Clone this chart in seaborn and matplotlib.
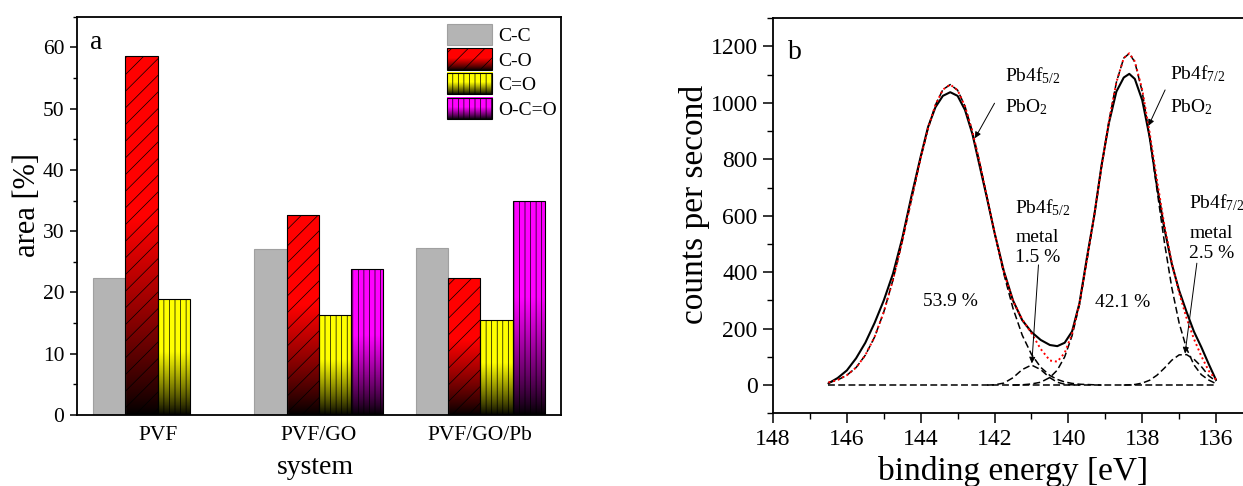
import numpy as np
import pandas as pd
import matplotlib
matplotlib.use("Agg")
import matplotlib.pyplot as plt
import matplotlib.colors as mcolors
import seaborn as sns
from matplotlib.patches import Patch
from matplotlib.image import BboxImage
from matplotlib.ticker import MultipleLocator

# ---------------- data: panel a ----------------
systems = ["PVF", "PVF/GO", "PVF/GO/Pb"]
bonds = ["C-C", "C-O", "C=O", "O-C=O"]
area_cc = [22.4, 27.1, 27.3]
area_co = [58.6, 32.7, 22.3]
area_c_dbl_o = [18.9, 16.4, 15.5]
area_occo = [np.nan, 23.8, 34.9]
bar_colors = ["#b4b4b4", "#ff0000", "#ffff00", "#ff00ff"]

# ---------------- data: panel b ----------------
energy = [146.5, 146.25, 146.0, 145.75, 145.5, 145.25, 145.0, 144.75, 144.5, 144.25,
          144.0, 143.8, 143.6, 143.4, 143.2, 143.0, 142.8, 142.6, 142.4, 142.2,
          142.0, 141.75, 141.5, 141.25, 141.0, 140.75, 140.5, 140.3, 140.1, 139.9,
          139.7, 139.5, 139.3, 139.1, 138.9, 138.7, 138.5, 138.35, 138.2, 138.0,
          137.8, 137.6, 137.4, 137.2, 137.0, 136.8, 136.6, 136.4, 136.2, 136.0]
measured = [6, 25, 52, 95, 150, 220, 300, 395, 520, 670,
            810, 915, 985, 1025, 1038, 1025, 975, 890, 775, 660,
            540, 405, 300, 230, 188, 160, 142, 138, 150, 190,
            290, 450, 600, 780, 930, 1040, 1090, 1103, 1085, 1010,
            880, 705, 555, 430, 335, 260, 190, 135, 75, 18]
envelope = [9, 18, 35, 62, 106, 170, 259, 373, 509, 658,
            805, 910, 993, 1047, 1065, 1045, 988, 899, 787, 664,
            541, 402, 298, 233, 184, 128, 87, 83, 114, 182,
            288, 442, 601, 775, 935, 1073, 1159, 1176, 1147, 1047,
            896, 727, 567, 434, 327, 238, 164, 103, 51, 19]
pbo2_52 = [9, 18, 35, 62, 106, 170, 259, 373, 509, 658,
           805, 910, 993, 1047, 1065, 1045, 988, 899, 787, 664,
           540, 395, 272, 177, 109, 63, 34, 20, 11, 6,
           3, 2, 1, 0, 0, 0, 0, 0, 0, 0,
           0, 0, 0, 0, 0, 0, 0, 0, 0, 0]
metal_52 = [0, 0, 0, 0, 0, 0, 0, 0, 0, 0,
            0, 0, 0, 0, 0, 0, 0, 0, 0, 0,
            1, 7, 26, 55, 71, 55, 26, 10, 3, 1,
            0, 0, 0, 0, 0, 0, 0, 0, 0, 0,
            0, 0, 0, 0, 0, 0, 0, 0, 0, 0]
pbo2_72 = [0, 0, 0, 0, 0, 0, 0, 0, 0, 0,
           0, 0, 0, 0, 0, 0, 0, 0, 0, 0,
           0, 0, 0, 1, 4, 10, 27, 53, 100, 175,
           285, 440, 600, 775, 935, 1073, 1159, 1175, 1145, 1040,
           879, 692, 507, 346, 220, 130, 72, 37, 18, 5]
metal_72 = [0, 0, 0, 0, 0, 0, 0, 0, 0, 0,
            0, 0, 0, 0, 0, 0, 0, 0, 0, 0,
            0, 0, 0, 0, 0, 0, 0, 0, 0, 0,
            0, 0, 0, 0, 0, 0, 0, 1, 2, 7,
            17, 35, 60, 88, 107, 108, 92, 66, 33, 14]
baseline_x = [146.5, 136.0]
baseline_y = [0, 0]

# ---------------- style ----------------
sns.set_style("ticks")
plt.rcParams.update({
    "font.family": ["Liberation Serif", "DejaVu Serif"],
    "mathtext.fontset": "custom",
    "mathtext.rm": "Liberation Serif",
    "mathtext.it": "Liberation Serif:italic",
    "mathtext.bf": "Liberation Serif:bold",
    "hatch.linewidth": 0.5,
    "hatch.color": "black",
    "axes.edgecolor": "black",
    "axes.linewidth": 1.3,
    "axes.labelcolor": "black",
    "text.color": "black",
    "xtick.color": "black",
    "ytick.color": "black",
})

fig = plt.figure(figsize=(12.43, 4.86), dpi=100)
axa = fig.add_axes([0.0619, 0.1461, 0.3894, 0.8195])
axb = fig.add_axes([0.6219, 0.1496, 0.3781, 0.8128])


def gradient(color, n=200):
    rgb = np.array(mcolors.to_rgb(color))
    f = np.linspace(0, 1, n)
    g = np.clip(f / 0.55, 0, 1) ** 0.85
    return g[:, None, None] * rgb[None, None, :]


# ---------------- panel a ----------------
rows = []
for s, v1, v2, v3, v4 in zip(systems, area_cc, area_co, area_c_dbl_o, area_occo):
    for b, v in zip(bonds, [v1, v2, v3, v4]):
        if not np.isnan(v):
            rows.append({"system": s, "bond": b, "area": v})
df = pd.DataFrame(rows)
palette = dict(zip(bonds, bar_colors))

sns.barplot(data=df, x="system", y="area", hue="bond", order=systems,
            hue_order=bonds, palette=palette, saturation=1, errorbar=None,
            width=0.8, ax=axa, legend=False)

hatches = {"C-C": None, "C-O": "//", "C=O": "|||", "O-C=O": "|||"}
for p in list(axa.patches):
    h = p.get_height()
    if h is None or np.isnan(h):
        continue
    fc = np.array(p.get_facecolor()[:3])
    bond = None
    for b in bonds:
        if np.allclose(fc, mcolors.to_rgb(palette[b]), atol=0.02):
            bond = b
    if bond is None:
        continue
    if bond == "C-C":
        p.set_edgecolor("#a0a0a0")
        p.set_linewidth(0.8)
        continue
    x0, w, y0 = p.get_x(), p.get_width(), p.get_y()
    im = axa.imshow(gradient(palette[bond]), extent=[x0, x0 + w, y0, y0 + h],
                    origin="lower", aspect="auto", interpolation="bilinear",
                    zorder=p.get_zorder() - 0.01)
    im.set_clip_path(p)
    p.set_facecolor("none")
    p.set_edgecolor("black")
    p.set_linewidth(0.8)
    p.set_hatch(hatches[bond])

axa.set_xlim(-0.5, 2.5)
axa.set_ylim(0, 65)
axa.set_yticks([0, 10, 20, 30, 40, 50, 60])
axa.yaxis.set_minor_locator(MultipleLocator(5))
axa.tick_params(axis="y", which="major", direction="out", length=5, width=1.1,
                labelsize=15.5, pad=4)
axa.tick_params(axis="y", which="minor", direction="out", length=3, width=1.0)
axa.tick_params(axis="x", length=0, labelsize=15.5, pad=8)
axa.set_xlabel("system", fontsize=20)
axa.set_ylabel("area [%]", fontsize=22)
axa.xaxis.set_label_coords(0.492, -0.1)
axa.yaxis.set_label_coords(-0.073, 0.528)
for sp in axa.spines.values():
    sp.set_visible(True)
    sp.set_color("black")
    sp.set_linewidth(1.3)
axa.text(-0.419, 59.8, "a", fontsize=20, ha="left", va="baseline")

handles = []
for b, c in zip(bonds, bar_colors):
    if b == "C-C":
        handles.append(Patch(facecolor=c, edgecolor="#a0a0a0", linewidth=0.8))
    else:
        handles.append(Patch(facecolor=c, edgecolor="black", linewidth=0.8,
                             hatch=hatches[b]))
leg = axa.legend(handles, bonds, loc="upper left", bbox_to_anchor=(0.764, 0.982),
                 frameon=False, fontsize=14, handlelength=2.35, handleheight=1.29,
                 labelspacing=0.18, handletextpad=0.3, borderpad=0,
                 borderaxespad=0)

# ---------------- panel b ----------------
E = np.array(energy)


def nonzero_span(vals):
    v = np.array(vals, dtype=float)
    idx = np.where(v > 0)[0]
    lo = max(idx.min() - 1, 0)
    hi = min(idx.max() + 1, len(v) - 1)
    return E[lo:hi + 1], v[lo:hi + 1]


dash = (0, (4.5, 2.2))
sns.lineplot(x=baseline_x, y=baseline_y, ax=axb, color="black", linewidth=1.1,
             linestyle=dash, sort=False, estimator=None)
for comp in [pbo2_52, metal_52, pbo2_72, metal_72]:
    xs, ys = nonzero_span(comp)
    sns.lineplot(x=xs, y=ys, ax=axb, color="black", linewidth=1.1,
                 linestyle=dash, sort=False, estimator=None)
sns.lineplot(x=energy, y=measured, ax=axb, color="black", linewidth=1.5,
             sort=False, estimator=None)
sns.lineplot(x=energy, y=envelope, ax=axb, color="#ff0000", linewidth=1.4,
             linestyle=(0, (1, 1.5)), sort=False, estimator=None)

axb.set_xlim(148, 135.27)
axb.set_ylim(-100, 1300)
axb.set_xticks([148, 146, 144, 142, 140, 138, 136])
axb.xaxis.set_minor_locator(MultipleLocator(1))
axb.set_yticks([0, 200, 400, 600, 800, 1000, 1200])
axb.yaxis.set_minor_locator(MultipleLocator(100))
axb.tick_params(which="major", direction="out", length=7, width=1.1,
                labelsize=17, pad=4)
axb.tick_params(which="minor", direction="out", length=4, width=1.0)
axb.spines["right"].set_visible(False)
for k in ["left", "top", "bottom"]:
    axb.spines[k].set_visible(True)
    axb.spines[k].set_color("black")
    axb.spines[k].set_linewidth(1.3)
axb.set_xlabel("binding energy [eV]", fontsize=24)
axb.set_ylabel("counts per second", fontsize=24)
axb.xaxis.set_label_coords(0.511, -0.108)
axb.yaxis.set_label_coords(-0.135, 0.529)

axb.text(147.585, 1155, "b", fontsize=20, ha="left", va="baseline")
fs = 14
axb.text(141.71, 1078, "Pb4f$_{5/2}$", fontsize=fs, ha="left", va="baseline")
axb.text(141.71, 965, "PbO$_2$", fontsize=fs, ha="left", va="baseline")
axb.text(137.26, 1084, "Pb4f$_{7/2}$", fontsize=fs, ha="left", va="baseline")
axb.text(137.26, 966, "PbO$_2$", fontsize=fs, ha="left", va="baseline")
axb.text(141.44, 608, "Pb4f$_{5/2}$", fontsize=fs, ha="left", va="baseline")
axb.text(141.44, 508, "metal", fontsize=fs, ha="left", va="baseline")
axb.text(141.44, 437, "1.5 %", fontsize=fs, ha="left", va="baseline")
axb.text(136.72, 627, "Pb4f$_{7/2}$", fontsize=fs, ha="left", va="baseline")
axb.text(136.72, 520, "metal", fontsize=fs, ha="left", va="baseline")
axb.text(136.72, 449, "2.5 %", fontsize=fs, ha="left", va="baseline")
axb.text(143.2, 280, "53.9 %", fontsize=fs, ha="center", va="baseline")
axb.text(138.53, 276, "42.1 %", fontsize=fs, ha="center", va="baseline")

arrow_kw = dict(arrowstyle="-|>", color="black", lw=0.7, mutation_scale=9,
                shrinkA=0, shrinkB=0)
for start, tip in [((142.0, 999), (142.53, 875)),
                   ((137.38, 1046), (137.83, 919)),
                   ((140.81, 426), (140.99, 77)),
                   ((136.52, 432), (136.84, 112))]:
    axb.annotate("", xy=tip, xytext=start, arrowprops=arrow_kw)

# gradient fill for legend boxes
fig.canvas.draw()
for patch, b in zip(leg.get_patches(), bonds):
    if b == "C-C":
        continue
    bb = patch.get_window_extent().frozen()
    patch.set_facecolor("none")
    bi = BboxImage(bb, origin="lower", interpolation="bilinear")
    bi.set_data(gradient(palette[b]))
    bi.set_zorder(leg.get_zorder() - 0.1)
    axa.add_artist(bi)

fig.savefig("out.png", dpi=100, facecolor="white")
